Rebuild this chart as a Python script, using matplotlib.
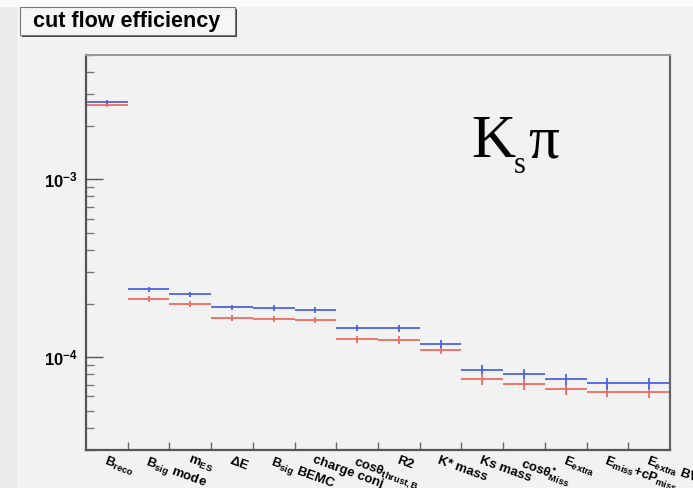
import numpy as np
import matplotlib
matplotlib.use("Agg")
import matplotlib.pyplot as plt
from matplotlib.patches import Rectangle

# cut flow steps (x axis bins)
cut_labels = [
    r"B$_{reco}$", r"B$_{sig}$ mode", r"m$_{ES}$", r"$\Delta$E", r"B$_{sig}$ BEMC",
    "charge conj", r"cos$\theta_{thrust,B}$", "R2", "K* mass", "Ks mass",
    r"cos$\theta^{*}_{Miss}$", r"E$_{extra}$", r"E$_{miss}$+cP$_{miss}$", r"E$_{extra}$ BV",
]

# efficiencies
eff_blue = [2.71e-3, 2.40e-4, 2.25e-4, 1.90e-4, 1.89e-4, 1.85e-4, 1.46e-4,
            1.45e-4, 1.18e-4, 8.5e-5, 8.05e-5, 7.5e-5, 7.15e-5, 7.13e-5]
eff_red = [2.63e-3, 2.12e-4, 1.99e-4, 1.66e-4, 1.64e-4, 1.62e-4, 1.26e-4,
           1.25e-4, 1.09e-4, 7.5e-5, 7.05e-5, 6.6e-5, 6.38e-5, 6.34e-5]
err_blue = [7e-5, 8e-6, 8e-6, 7e-6, 7e-6, 7e-6, 6e-6, 6e-6, 6e-6, 5e-6, 5e-6, 5e-6, 5e-6, 5e-6]
err_red = [7e-5, 8e-6, 7e-6, 7e-6, 7e-6, 6e-6, 6e-6, 6e-6, 5e-6, 5e-6, 5e-6, 4.5e-6, 4.5e-6, 4.5e-6]

plt.rcParams["font.family"] = ["Liberation Sans", "DejaVu Sans"]
plt.rcParams["font.weight"] = "bold"
plt.rcParams["mathtext.fontset"] = "custom"
plt.rcParams["mathtext.rm"] = "Liberation Sans:bold"
plt.rcParams["mathtext.it"] = "Liberation Sans:bold"
plt.rcParams["mathtext.bf"] = "Liberation Sans:bold"

bg = "#f2f2f2"
fig = plt.figure(figsize=(6.93, 4.88), dpi=100, facecolor=bg)

# lighter strip at the top, darker strip on the left
fig.patches.append(Rectangle((0, 1 - 7 / 488), 1, 7 / 488, transform=fig.transFigure,
                             facecolor="#fafafa", edgecolor="none", zorder=0))
fig.patches.append(Rectangle((0, 0), 17 / 693, 1 - 7 / 488, transform=fig.transFigure,
                             facecolor="#eaeaea", edgecolor="none", zorder=0))

ax = fig.add_axes([86 / 693, 1 - 450 / 488, 584 / 693, 395 / 488])
ax.set_facecolor(bg)

x = np.arange(len(cut_labels))
ax.errorbar(x, eff_red, xerr=0.5, yerr=err_red, fmt="none", ecolor="#ef6a5e",
            elinewidth=1.3, capsize=0)
ax.errorbar(x, eff_blue, xerr=0.5, yerr=err_blue, fmt="none", ecolor="#4a63e6",
            elinewidth=1.3, capsize=0)

ax.set_yscale("log")
ax.set_ylim(3.0e-5, 5.0e-3)
ax.set_xlim(-0.5, len(cut_labels) - 0.5)

# y ticks: labels only at the decades
ax.set_yticks([1e-4, 1e-3])
ax.set_yticklabels([r"10$^{-4}$", r"10$^{-3}$"], fontsize=12)
ax.yaxis.set_minor_locator(matplotlib.ticker.LogLocator(base=10, subs=np.arange(2, 10)))
ax.yaxis.set_minor_formatter(matplotlib.ticker.NullFormatter())
ax.tick_params(axis="y", which="major", direction="in", length=12, width=1.0,
               color="#555555", pad=6)
ax.tick_params(axis="y", which="minor", direction="in", length=6, width=1.0, color="#777777")

# x ticks: labels at bin centres, tick marks at bin edges
ax.set_xticks(x)
ax.set_xticklabels(cut_labels, fontsize=9.5, rotation=-20, ha="left",
                   rotation_mode="anchor")
ax.set_xticks(np.arange(0.5, len(cut_labels) - 1, 1.0), minor=True)
ax.tick_params(axis="x", which="major", length=0, pad=3)
ax.tick_params(axis="x", which="minor", direction="in", length=6, width=1.0, color="#666666")

for side in ["left", "bottom"]:
    ax.spines[side].set_color("#555555")
    ax.spines[side].set_linewidth(1.6)
ax.spines["top"].set_color("#999999")
ax.spines["top"].set_linewidth(1.4)
ax.spines["right"].set_color("#666666")
ax.spines["right"].set_linewidth(1.6)

# title box with shadow
fig.patches.append(Rectangle((22 / 693, 1 - 37 / 488), 215 / 693, 28 / 488,
                             transform=fig.transFigure, facecolor="#444444",
                             edgecolor="none", zorder=2))
fig.patches.append(Rectangle((20 / 693, 1 - 35 / 488), 215 / 693, 28 / 488,
                             transform=fig.transFigure, facecolor="#f6f6f6",
                             edgecolor="#777777", linewidth=0.8, zorder=3))
fig.text(33 / 693, 1 - 27 / 488, "cut flow efficiency", fontsize=15.5,
         fontweight="bold", va="baseline", ha="left", zorder=4)

# K_s pi annotation
serif = ["Liberation Serif", "DejaVu Serif"]
fig.text(471 / 693, 1 - 157 / 488, "K", family=serif, fontweight="normal",
         fontsize=44, va="baseline", ha="left")
fig.text(514 / 693, 1 - 173 / 488, "s", family=serif, fontweight="normal",
         fontsize=22, va="baseline", ha="left")
fig.text(528 / 693, 1 - 157 / 488, "\u03c0", family=serif, fontweight="normal",
         fontsize=44, va="baseline", ha="left")

fig.savefig("out.png", dpi=100, facecolor=bg)
